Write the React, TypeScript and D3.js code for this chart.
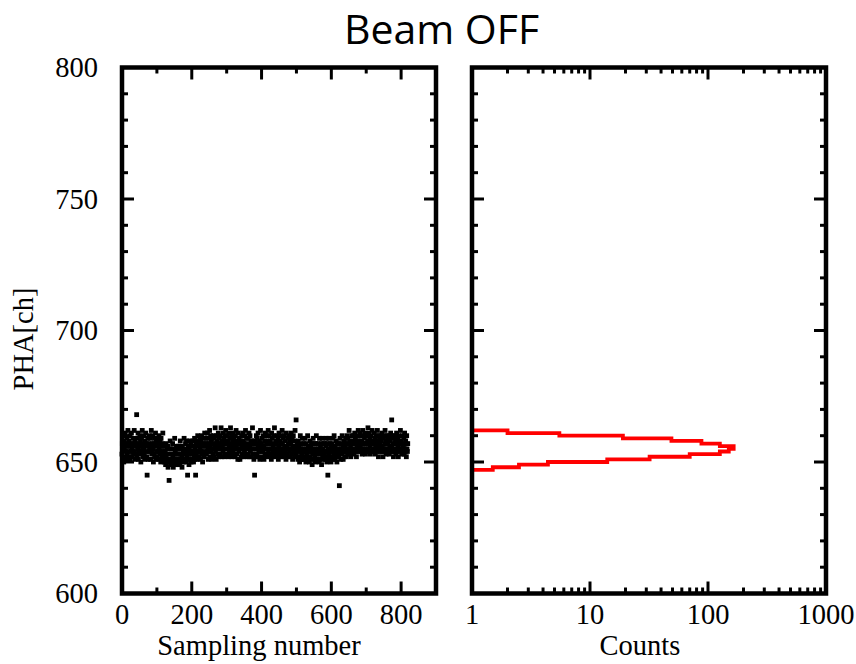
import React from 'react';
import * as d3 from 'd3';

const titleText = 'Beam OFF';
const yAxisLabel = 'PHA[ch]';
const leftXLabel = 'Sampling number';
const rightXLabel = 'Counts';

const leftXTickLabels = [0, 200, 400, 600, 800];
const yTickLabels = [600, 650, 700, 750, 800];
const rightXTickLabels = [1, 10, 100, 1000];

// PHA value of each sampling number (0..819)
const phaValues = [
  653,657,655,660,656,650,658,655,652,661,654,657,651,656,659,653,657,662,654,656,
  658,652,656,660,651,657,654,661,655,652,657,654,659,653,656,662,654,658,651,656,
  657,653,668,652,659,655,661,651,657,654,656,660,653,658,650,656,659,654,662,655,
  652,657,655,660,653,651,658,656,661,654,657,652,645,656,659,651,657,654,660,655,
  654,659,651,656,662,653,657,654,660,655,650,657,653,659,652,656,661,651,658,654,
  656,652,659,654,657,651,660,655,653,658,654,650,659,656,652,657,654,661,651,656,
  653,650,656,651,654,649,657,652,650,655,651,656,648,653,650,643,655,651,658,649,
  651,655,649,653,650,657,652,648,655,651,653,659,649,654,651,650,656,653,649,655,
  653,650,656,651,655,649,653,658,651,650,655,652,648,656,651,654,650,653,659,651,
  655,651,657,653,650,658,652,654,645,651,656,653,649,655,658,651,653,657,650,654,
  653,656,651,658,654,650,656,652,659,651,655,645,657,653,658,651,654,660,652,656,
  654,657,652,659,655,651,658,654,660,653,656,650,657,654,659,652,656,661,653,657,
  656,659,653,657,654,661,655,651,659,654,657,662,652,656,660,654,658,651,659,655,
  657,653,660,655,652,659,656,663,654,657,651,660,655,658,653,657,661,652,656,659,
  655,660,653,657,663,655,652,658,656,654,661,655,659,652,657,660,653,662,655,658,
  657,653,660,655,658,652,661,656,654,659,655,663,653,657,660,652,656,658,654,661,
  655,659,653,657,652,660,655,662,656,653,658,655,651,661,657,654,659,655,651,657,
  658,655,652,660,656,653,661,655,658,652,657,654,660,655,662,656,653,659,652,656,
  657,653,659,655,661,652,656,660,654,655,658,652,657,655,663,653,658,655,651,657,
  645,658,655,652,657,660,653,655,659,652,661,656,654,655,658,651,657,662,654,656,
  657,652,659,655,654,660,656,651,655,658,653,661,655,652,657,660,653,658,655,662,
  654,657,660,652,655,658,653,657,651,661,655,659,652,656,654,660,655,663,653,657,
  655,658,652,657,660,654,655,659,651,656,661,653,655,658,652,657,654,660,655,662,
  657,653,659,655,652,660,656,654,658,655,651,661,656,653,655,659,652,657,660,655,
  654,658,655,652,657,661,653,655,659,651,656,660,654,655,658,652,662,656,653,666,
  655,652,657,654,651,658,655,652,656,650,654,660,655,651,657,653,652,659,655,651,
  654,657,651,655,652,659,654,650,657,653,655,651,660,654,656,652,655,650,654,658,
  652,656,651,657,654,649,655,653,659,654,651,657,655,652,650,657,654,660,653,655,
  654,651,657,653,655,650,659,654,651,656,653,657,649,654,659,652,655,651,657,654,
  653,657,654,651,656,659,652,650,654,657,645,655,653,659,651,654,657,652,656,650,
  655,652,657,654,651,659,655,653,660,654,656,651,655,652,658,654,650,657,655,653,
  654,657,652,641,655,659,654,651,657,655,653,660,654,656,651,655,658,654,652,657,
  656,659,654,652,657,660,655,653,659,654,657,662,655,653,658,656,652,657,660,654,
  657,654,660,655,658,653,657,661,655,659,654,657,652,660,656,658,654,662,657,655,
  658,655,661,656,654,660,655,658,653,657,662,655,660,654,657,659,655,661,653,657,
  655,660,657,654,658,663,655,657,661,654,659,656,653,660,657,654,658,662,655,657,
  658,654,657,661,655,659,653,656,660,655,654,658,662,655,657,652,660,656,659,654,
  657,660,655,658,654,661,656,655,652,659,655,660,654,657,662,655,658,653,657,660,
  655,659,654,657,660,655,653,658,656,654,661,655,659,666,656,660,654,657,652,659,
  657,654,660,655,658,653,657,661,655,654,659,656,652,660,655,658,654,657,662,655,
  658,655,653,657,660,654,656,655,659,653,661,655,654,658,657,652,660,655,654,657,
];

// histogram: lower edge of each 1-ch PHA bin and its count
const histBinStarts = [646,647,648,649,650,651,652,653,654,655,656,657,658,659,660,661,662];
const histCounts = [1,1.5,2.5,4.4,14,32,70,126,150,165,126,88,49,19,5.5,2,1];

const W = 856;
const H = 664;

export default function App() {
  const y = d3.scaleLinear().domain([600, 800]).range([593.5, 67.5]);
  const xL = d3.scaleLinear().domain([0, 900]).range([122, 436]);
  const xR = d3.scaleLog().domain([1, 1000]).range([472, 826]);

  const top = y(800);
  const bottom = y(600);

  const serif = "'Liberation Serif', 'Times New Roman', serif";
  const fs = 28.5;

  const yTicksAll = d3.range(600, 801, 10);
  const xLTicksAll = d3.range(0, 901, 100);
  const xRTicksAll = xR.ticks();

  const histPts: [number, number][] = [];
  histBinStarts.forEach((b, i) => {
    histPts.push([histCounts[i], b]);
    histPts.push([histCounts[i], b + 1]);
  });
  const histLine = d3
    .line<[number, number]>()
    .x((d) => xR(d[0]))
    .y((d) => y(d[1]));

  const tickW = 3;
  const minorLen = 6;
  const majorLen = 12;

  const frame = (x0: number, x1: number) => (
    <rect x={x0} y={top} width={x1 - x0} height={bottom - top} fill="none" stroke="#000" strokeWidth={4.5} />
  );

  const yTickMarks = (x0: number, x1: number, key: string) =>
    yTicksAll.map((t) => {
      const len = t % 50 === 0 ? majorLen : minorLen;
      return (
        <g key={key + t}>
          <line x1={x0} x2={x0 + len} y1={y(t)} y2={y(t)} stroke="#000" strokeWidth={tickW} />
          <line x1={x1} x2={x1 - len} y1={y(t)} y2={y(t)} stroke="#000" strokeWidth={tickW} />
        </g>
      );
    });

  const sq = 4.8;

  return (
    <svg width={W} height={H} style={{ position: 'absolute', left: 0, top: 0, background: '#fff' }}>
      <rect x={0} y={0} width={W} height={H} fill="#fff" />
      <text x={441.5} y={43.5} textAnchor="middle" fontFamily="'Open Sans', sans-serif" fontSize={41} fill="#000">
        {titleText}
      </text>

      {/* Left panel: scatter */}
      <g>
        {phaValues.map((v, i) => (
          <rect key={i} x={xL(i) - sq / 2} y={y(v) - sq / 2} width={sq} height={sq} fill="#000" />
        ))}
      </g>

      {/* Right panel: histogram */}
      <path d={histLine(histPts) || ''} fill="none" stroke="#ff0000" strokeWidth={3.8} strokeLinejoin="miter" />

      {frame(xL(0), xL(900))}
      {frame(xR(1), xR(1000))}

      {yTickMarks(xL(0), xL(900), 'l')}
      {yTickMarks(xR(1), xR(1000), 'r')}

      {xLTicksAll.map((t) => {
        const len = t % 200 === 0 ? majorLen : minorLen;
        return (
          <g key={'xl' + t}>
            <line x1={xL(t)} x2={xL(t)} y1={bottom} y2={bottom - len} stroke="#000" strokeWidth={tickW} />
            <line x1={xL(t)} x2={xL(t)} y1={top} y2={top + len} stroke="#000" strokeWidth={tickW} />
          </g>
        );
      })}
      {xRTicksAll.map((t) => {
        const major = Math.abs(Math.log10(t) - Math.round(Math.log10(t))) < 1e-9;
        const len = major ? majorLen : minorLen;
        return (
          <g key={'xr' + t}>
            <line x1={xR(t)} x2={xR(t)} y1={bottom} y2={bottom - len} stroke="#000" strokeWidth={tickW} />
            <line x1={xR(t)} x2={xR(t)} y1={top} y2={top + len} stroke="#000" strokeWidth={tickW} />
          </g>
        );
      })}

      {/* tick labels */}
      {yTickLabels.map((t) => (
        <text key={'yl' + t} x={98} y={y(t) + 9.5} textAnchor="end" fontFamily={serif} fontSize={fs} fill="#000">
          {t}
        </text>
      ))}
      {leftXTickLabels.map((t) => (
        <text key={'xlt' + t} x={xL(t)} y={624} textAnchor="middle" fontFamily={serif} fontSize={fs} fill="#000">
          {t}
        </text>
      ))}
      {rightXTickLabels.map((t) => (
        <text key={'xrt' + t} x={xR(t)} y={624} textAnchor="middle" fontFamily={serif} fontSize={fs} fill="#000">
          {t}
        </text>
      ))}

      <text x={(xL(0) + xL(900)) / 2 - 20} y={655} textAnchor="middle" fontFamily={serif} fontSize={fs} fill="#000">
        {leftXLabel}
      </text>
      <text x={(xR(1) + xR(1000)) / 2 - 9} y={655} textAnchor="middle" fontFamily={serif} fontSize={fs} fill="#000">
        {rightXLabel}
      </text>
      <text
        transform={`translate(33, 339) rotate(-90)`}
        textAnchor="middle"
        fontFamily={serif}
        fontSize={fs}
        fill="#000"
      >
        {yAxisLabel}
      </text>
    </svg>
  );
}
